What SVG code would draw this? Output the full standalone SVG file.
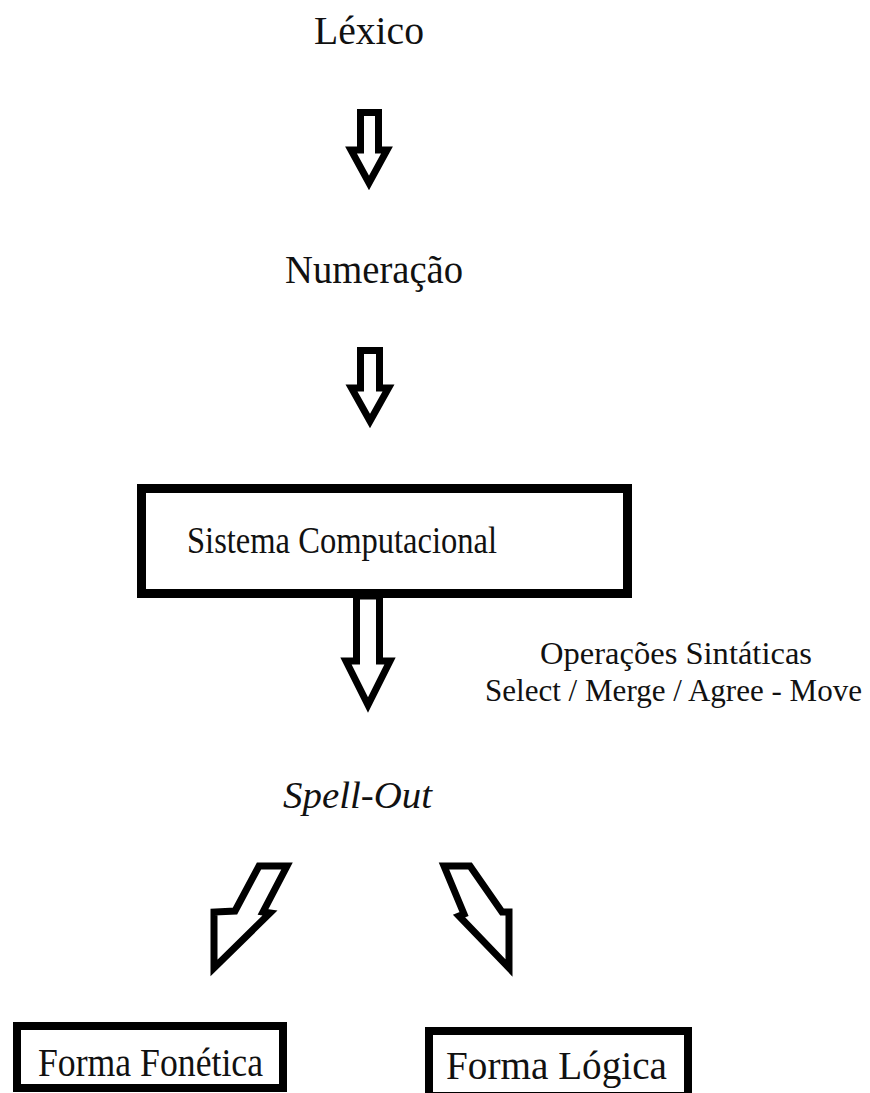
<svg xmlns="http://www.w3.org/2000/svg" width="870" height="1093" viewBox="0 0 870 1093">
<style>
.t{font-family:"Liberation Serif","Times New Roman",serif;fill:#111;}
.box{fill:#fff;stroke:#000;}
.arr{fill:#fff;stroke:#000;stroke-width:7;stroke-linejoin:miter;stroke-miterlimit:10;}
</style>
<rect width="870" height="1093" fill="#fff"/>
<g id="connectors">
<path class="arr" d="M360.5,112.5 L378.5,112.5 L378.5,150 L387,150 L369,183 L351,150 L360.5,150 Z"/>
<path class="arr" d="M360.5,350.5 L379.5,350.5 L379.5,388 L388.5,388 L370,421 L351.5,388 L360.5,388 Z"/>
<path class="arr" d="M356.5,596 L379.5,596 L379.5,661 L390,661 L368,705 L346,661 L356.5,661 Z"/>
<path class="arr" d="M259,866 L287,866 L263,912 L270,913 L214,968 L214,912 L235,911 Z"/>
<path class="arr" d="M444,866 L470,866 L502,912 L509,912 L509,968 L459,916 L464,914 Z"/>
</g>
<g id="lexico"><text class="t" x="314" y="44" font-size="40" textLength="110" lengthAdjust="spacingAndGlyphs">Léxico</text></g>
<g id="numeracao"><text class="t" x="285" y="283" font-size="40" textLength="178" lengthAdjust="spacingAndGlyphs">Numeração</text></g>
<g id="sistema">
<rect class="box" x="141.5" y="488.5" width="486" height="105" stroke-width="9"/>
<text class="t" x="187" y="553" font-size="37" textLength="310" lengthAdjust="spacingAndGlyphs">Sistema Computacional</text>
</g>
<g id="operacoes">
<text class="t" x="540" y="664" font-size="32" textLength="272" lengthAdjust="spacingAndGlyphs">Operações Sintáticas</text>
<text class="t" x="485" y="701" font-size="32" textLength="377" lengthAdjust="spacingAndGlyphs">Select / Merge / Agree - Move</text>
</g>
<g id="spellout"><text class="t" x="283" y="808" font-size="37" font-style="italic" textLength="149" lengthAdjust="spacingAndGlyphs">Spell-Out</text></g>
<g id="fonetica">
<rect class="box" x="17" y="1026" width="266" height="62" stroke-width="8"/>
<text class="t" x="38" y="1076" font-size="39" textLength="225" lengthAdjust="spacingAndGlyphs">Forma Fonética</text>
</g>
<g id="logica">
<rect class="box" x="429" y="1031" width="259" height="65" stroke-width="8"/>
<text class="t" x="446" y="1079" font-size="39" textLength="221" lengthAdjust="spacingAndGlyphs">Forma Lógica</text>
</g>
</svg>
